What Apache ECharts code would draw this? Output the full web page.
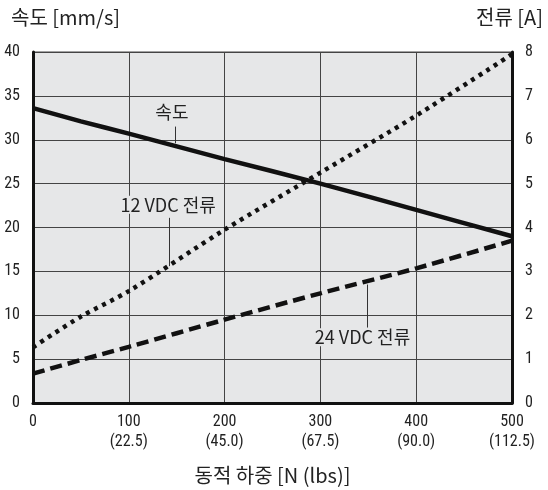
<!DOCTYPE html>
<html><head><meta charset="utf-8">
<script src="https://cdn.jsdelivr.net/npm/echarts@6/dist/echarts.min.js"></script>
<style>html,body{margin:0;padding:0;background:#fff}#c{width:548px;height:490px}</style>
</head><body><div id="c"></div>
<script>
// Data
const loadN = [0, 50, 100, 200, 300, 400, 500];
const speed = [33.6, 32.1, 30.7, 27.8, 25.0, 22.0, 19.0];          // mm/s
const current12 = [1.27, 1.97, 2.55, 3.95, 5.25, 6.55, 7.95];      // A
const current24 = [0.67, 0.98, 1.28, 1.9, 2.5, 3.07, 3.7];         // A
const xTicks = [0, 100, 200, 300, 400, 500];
const lbsLabels = ['', '(22.5)', '(45.0)', '(67.5)', '(90.0)', '(112.5)'];

const numFont = "'Liberation Sans Narrow','Roboto Condensed','DejaVu Sans Condensed',sans-serif";
const krFont = "'Noto Sans CJK KR','Noto Sans',sans-serif";
const plotBg = '#e6e7e8';

const chart = echarts.init(document.getElementById('c'));
const pair = (xs, ys) => xs.map((x, i) => [x, ys[i]]);

const annLabel = (text, x, y) => ({
  coord: [x, y], value: text,
  label: { show: true, formatter: text, position: 'inside', color: '#222',
    fontFamily: krFont, fontSize: 18, backgroundColor: plotBg, padding: [0, 4] }
});

chart.setOption({
  animation: false,
  title: [
    { text: '속도 [mm/s]', left: 6, top: 2, textStyle: { fontFamily: krFont, fontSize: 20, fontWeight: 'normal', color: '#222' } },
    { text: '전류 [A]', right: 0, top: 2, textStyle: { fontFamily: krFont, fontSize: 20, fontWeight: 'normal', color: '#222' } }
  ],
  grid: { left: 33, right: 36, top: 52, bottom: 86, show: true, backgroundColor: plotBg, borderColor: '#444', borderWidth: 1 },
  xAxis: {
    type: 'value', min: 0, max: 500, interval: 100,
    name: '동적 하중 [N (lbs)]', nameLocation: 'middle', nameGap: 62,
    nameTextStyle: { fontFamily: krFont, fontSize: 20, color: '#222' },
    axisLine: { lineStyle: { color: '#111', width: 3 } },
    axisTick: { show: false },
    splitLine: { show: true, lineStyle: { color: '#444', width: 1 } },
    axisLabel: { margin: 9, color: '#222', fontFamily: numFont, fontSize: 16, lineHeight: 20,
      formatter: v => { const i = xTicks.indexOf(v); return lbsLabels[i] ? v + '\n' + lbsLabels[i] : String(v); } }
  },
  yAxis: [
    { type: 'value', min: 0, max: 40, interval: 5, position: 'left',
      axisLine: { show: true, lineStyle: { color: '#111', width: 3 } },
      axisTick: { show: false },
      splitLine: { show: true, lineStyle: { color: '#444', width: 1 } },
      axisLabel: { margin: 13, color: '#222', fontFamily: numFont, fontSize: 16 } },
    { type: 'value', min: 0, max: 8, interval: 1, position: 'right',
      axisLine: { show: true, lineStyle: { color: '#111', width: 3 } },
      axisTick: { show: false }, splitLine: { show: false },
      axisLabel: { margin: 13, color: '#222', fontFamily: numFont, fontSize: 16 } }
  ],
  series: [
    { name: '속도', type: 'line', yAxisIndex: 0, data: pair(loadN, speed), smooth: 0.3, symbol: 'none',
      lineStyle: { color: '#111', width: 4.5 }, z: 5,
      markLine: { silent: true, symbol: 'none', label: { show: false },
        lineStyle: { color: '#333', width: 1, type: 'solid' },
        data: [
          [{ coord: [148, 31.5] }, { coord: [148, 29.6] }],
          [{ coord: [142, 21.1] }, { coord: [142, 15.6] }],
          [{ coord: [349, 13.5] }, { coord: [349, 8.6] }]
        ] },
      markPoint: { silent: true, symbol: 'rect', symbolSize: 1, itemStyle: { color: 'rgba(0,0,0,0)' },
        data: [annLabel('속도', 145, 33.2), annLabel('12 VDC 전류', 141, 22.6), annLabel('24 VDC 전류', 344, 7.5)] } },
    { name: '12 VDC 전류', type: 'line', yAxisIndex: 1, data: pair(loadN, current12), smooth: 0.3, symbol: 'none',
      lineStyle: { color: '#111', width: 4.5, type: [4, 5], cap: 'butt' }, z: 4 },
    { name: '24 VDC 전류', type: 'line', yAxisIndex: 1, data: pair(loadN, current24), smooth: 0.3, symbol: 'none',
      lineStyle: { color: '#111', width: 4.5, type: [12, 6], cap: 'butt' }, z: 4 }
  ]
});
</script></body></html>
